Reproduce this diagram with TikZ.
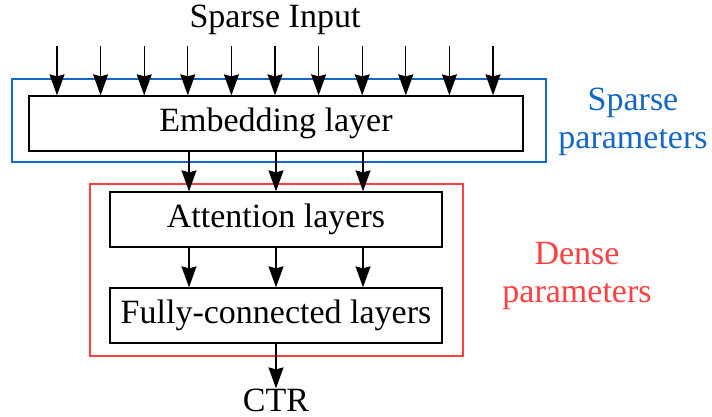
\documentclass[tikz,border=0pt]{standalone}
\usepackage{fontspec}
\setmainfont{Liberation Serif}
\usetikzlibrary{arrows.meta}
\definecolor{sparseblue}{RGB}{20,102,200}
\definecolor{densered}{RGB}{255,64,64}
\tikzset{
  layerbox/.style={draw=black, line width=1.3pt, minimum height=55pt, inner sep=0pt, font=\fontsize{34}{38}\selectfont},
  lbl/.style={inner sep=0pt, font=\fontsize{34}{38}\selectfont},
  flow/.style={line width=1.3pt, -{Stealth[length=21pt,width=15pt,inset=2pt]}},
  groupbox/.style={line width=1.5pt},
}
\begin{document}
\begin{tikzpicture}[x=1pt,y=-1pt]
\useasboundingbox (0,0) rectangle (712,416);
% group boxes
\draw[groupbox, draw=sparseblue] (12,79) rectangle (546,162);
\draw[groupbox, draw=densered] (90,184) rectangle (463,356);
% layers
\node[layerbox, minimum width=494pt] (emb) at (276,123.5) {Embedding layer};
\node[layerbox, minimum width=332pt] (att) at (276,219.5) {Attention layers};
\node[layerbox, minimum width=332pt] (fc) at (276,315.5) {Fully-connected layers};
% texts
\node[lbl] (in) at (275,20) {Sparse Input};
\node[lbl] (ctr) at (276,400) {CTR};
\node[lbl, text=sparseblue, align=center] (sp) at (633,122) {Sparse\\parameters};
\node[lbl, text=densered, align=center] (dp) at (577,276) {Dense\\parameters};
% input arrows
\foreach \i in {0,...,10} {
  \coordinate (s\i) at ({57+43.6*\i},46);
  \draw[flow] (s\i) -- (s\i |- emb.north);
}
% embedding -> attention, attention -> fc
\foreach \x in {189,276,363} {
  \draw[flow] (\x,0 |- emb.south) -- (\x,0 |- att.north);
  \draw[flow] (\x,0 |- att.south) -- (\x,0 |- fc.north);
}
\draw[flow] (fc.south) -- (ctr.north);
\end{tikzpicture}
\end{document}
